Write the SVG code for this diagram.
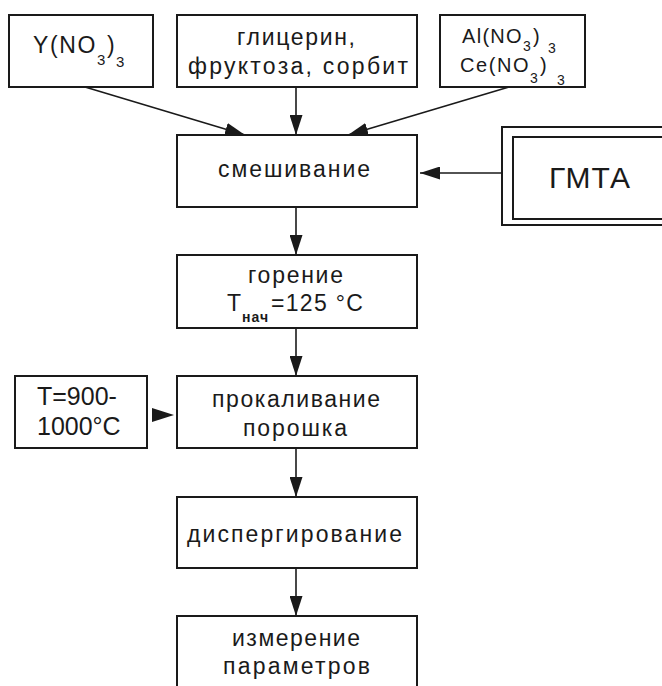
<svg xmlns="http://www.w3.org/2000/svg" width="662" height="686" viewBox="0 0 662 686">
<style>
.box{fill:#fff;stroke:#1a1a1a;stroke-width:2}
.t{font-family:"Liberation Sans",Arial,sans-serif;fill:#1a1a1a}
.m{font-size:23px}
.a{font-size:20px}
.sub{font-size:15px}
.ss{font-size:14px}
.ln{stroke:#1a1a1a;stroke-width:1.6;fill:none}
</style>
<defs>
<marker id="ah" markerUnits="userSpaceOnUse" viewBox="0 0 20 13" refX="20" refY="6.5" markerWidth="20" markerHeight="13" orient="auto">
<path d="M0,0 L20,6.5 L0,13 Z" fill="#1a1a1a"/>
</marker>
</defs>
<rect width="662" height="686" fill="#fff"/>

<g id="connectors">
<line class="ln" x1="85" y1="87" x2="245" y2="135" marker-end="url(#ah)"/>
<line class="ln" x1="296" y1="87" x2="296" y2="135" marker-end="url(#ah)"/>
<line class="ln" x1="509" y1="87" x2="348" y2="135" marker-end="url(#ah)"/>
<line class="ln" x1="513" y1="173" x2="420" y2="173" marker-end="url(#ah)"/>
<line class="ln" x1="296" y1="207" x2="296" y2="255" marker-end="url(#ah)"/>
<line class="ln" x1="296" y1="328" x2="296" y2="376" marker-end="url(#ah)"/>
<path d="M152,408 L174,415 L152,422 Z" fill="#1a1a1a"/>
<line class="ln" x1="296" y1="448" x2="296" y2="497" marker-end="url(#ah)"/>
<line class="ln" x1="296" y1="568" x2="296" y2="616" marker-end="url(#ah)"/>
</g>

<g id="n-y">
<rect class="box" x="9" y="15" width="144" height="72"/>
<text class="t m" x="33" y="53" letter-spacing="1.6">Y(NO</text>
<text class="t sub" x="97" y="65">3</text>
<text class="t m" x="107" y="53">)</text>
<text class="t sub" x="116" y="67">3</text>
</g>

<g id="n-glycerin">
<rect class="box" x="177" y="15" width="240" height="72"/>
<text class="t m" x="237" y="45" textLength="118" lengthAdjust="spacing">глицерин,</text>
<text class="t m" x="188" y="74" textLength="220" lengthAdjust="spacing">фруктоза, сорбит</text>
</g>

<g id="n-al">
<rect class="box" x="440" y="15" width="145" height="72"/>
<text class="t a" x="462" y="43" letter-spacing="1.3">Al(NO</text>
<text class="t ss" x="523" y="51">3</text>
<text class="t a" x="533" y="43">)</text>
<text class="t ss" x="548" y="53">3</text>
<text class="t a" x="460" y="72" letter-spacing="1.6">Ce(NO</text>
<text class="t ss" x="530" y="83">3</text>
<text class="t a" x="540" y="72">)</text>
<text class="t ss" x="557" y="85">3</text>
</g>

<g id="n-mix">
<rect class="box" x="177" y="135" width="240" height="72"/>
<text class="t m" x="218" y="177" textLength="152" lengthAdjust="spacing">смешивание</text>
</g>

<g id="n-gmta">
<rect class="box" x="502" y="127" width="180" height="98"/>
<rect class="box" x="513" y="137" width="170" height="82"/>
<text class="t" style="font-size:30px" x="549" y="188" textLength="81" lengthAdjust="spacing">ГМТА</text>
</g>

<g id="n-burn">
<rect class="box" x="177" y="255" width="240" height="73"/>
<text class="t m" x="248" y="283" textLength="95" lengthAdjust="spacing">горение</text>
<text class="t m" x="227" y="311">T</text>
<text class="t ss" x="242" y="322" font-weight="bold" letter-spacing="1">нач</text>
<text class="t m" x="271" y="311" letter-spacing="1.3">=125 °C</text>
</g>

<g id="n-temp">
<rect class="box" x="15" y="376" width="132" height="72"/>
<text class="t" style="font-size:25px" x="37" y="405">T=900-</text>
<text class="t" style="font-size:25px" x="37" y="435">1000°C</text>
</g>

<g id="n-calc">
<rect class="box" x="177" y="376" width="240" height="72"/>
<text class="t m" x="212" y="407" textLength="168" lengthAdjust="spacing">прокаливание</text>
<text class="t m" x="243" y="436" textLength="104" lengthAdjust="spacing">порошка</text>
</g>

<g id="n-disp">
<rect class="box" x="177" y="497" width="240" height="71"/>
<text class="t m" x="187" y="542" textLength="215" lengthAdjust="spacing">диспергирование</text>
</g>

<g id="n-meas">
<rect class="box" x="177" y="616" width="240" height="90"/>
<text class="t m" x="232" y="646" textLength="128" lengthAdjust="spacing">измерение</text>
<text class="t m" x="223" y="674" textLength="147" lengthAdjust="spacing">параметров</text>
</g>
</svg>
